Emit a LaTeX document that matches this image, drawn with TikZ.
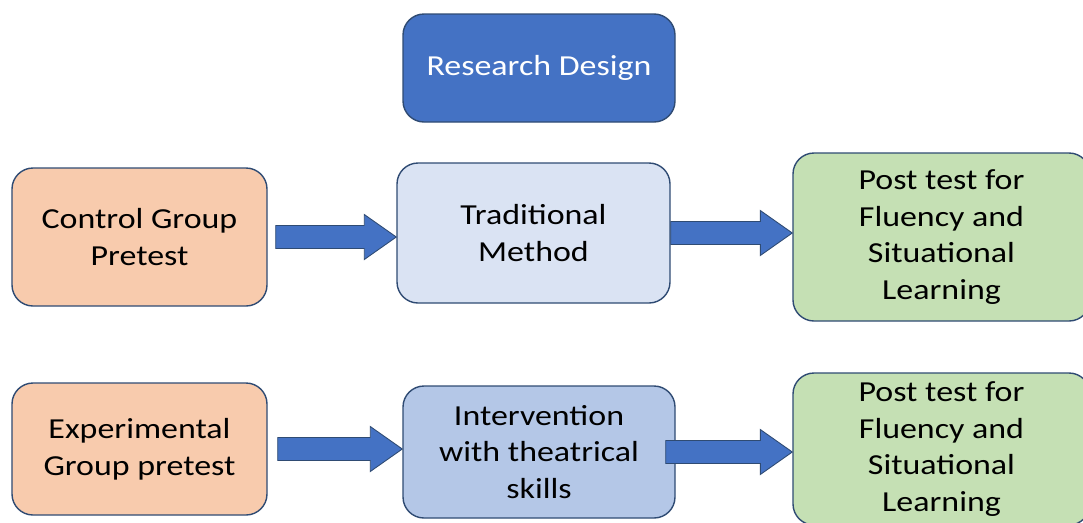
\documentclass[tikz,border=0pt]{standalone}
\usepackage{fontspec}
\setmainfont[FakeStretch=1.17]{Carlito}
\usetikzlibrary{calc}

\definecolor{headblue}{HTML}{4472C4}
\definecolor{edgeblue}{HTML}{2F4B73}
\definecolor{pretest}{HTML}{F8CBAD}
\definecolor{paleblue}{HTML}{DAE3F3}
\definecolor{midblue}{HTML}{B4C7E7}
\definecolor{posttest}{HTML}{C5E0B4}

\tikzset{
  box/.style={draw=edgeblue, line width=0.8pt, rounded corners=0.42cm,
    align=center, text=black, font=\fontsize{16.5}{21}\selectfont},
  arrowbox/.style={fill=headblue, draw=edgeblue, line width=0.5pt}
}

% Block arrow from node #1 to node #2, starting #3 cm off the east side
\newcommand{\flowarrow}[3]{%
  \coordinate (s) at ($(#1.east)+(#3,0)$);
  \coordinate (t) at (s -| #2.west);
  \filldraw[arrowbox] ($(s)+(0,0.23)$) -- ($(t)+(-0.64,0.23)$)
    -- ($(t)+(-0.64,0.45)$) -- (t) -- ($(t)+(-0.64,-0.45)$)
    -- ($(t)+(-0.64,-0.23)$) -- ($(s)+(0,-0.23)$) -- cycle;
}

\begin{document}
\begin{tikzpicture}

% Canvas
\useasboundingbox (0,0) rectangle (21.66,-10.44);
\clip (0,0) rectangle (21.66,-10.44);

% Title
\node[box, fill=headblue, text=white, minimum width=5.44cm, minimum height=2.16cm]
  (design) at (10.78,-1.36) {Research Design};

% Control group
\node[box, fill=pretest, minimum width=5.1cm, minimum height=2.76cm]
  (ctrl) at (2.79,-4.74) {Control Group\\Pretest};
\node[box, fill=paleblue, minimum width=5.46cm, minimum height=2.8cm]
  (trad) at (10.67,-4.66) {Traditional\\Method};
\node[box, fill=posttest, minimum width=5.94cm, minimum height=3.36cm]
  (posttop) at (18.83,-4.74) {Post test for\\Fluency and\\Situational\\Learning};

% Experimental group
\node[box, fill=pretest, minimum width=5.1cm, minimum height=2.64cm]
  (expt) at (2.79,-8.98) {Experimental\\Group pretest};
\node[box, fill=midblue, minimum width=5.44cm, minimum height=2.64cm]
  (interv) at (10.78,-9.04) {Intervention\\with theatrical\\skills};
\node[box, fill=posttest, minimum width=5.94cm, minimum height=3.04cm]
  (postbot) at (18.83,-8.98) {Post test for\\Fluency and\\Situational\\Learning};

% Arrows
\flowarrow{ctrl}{trad}{0.16}
\flowarrow{trad}{posttop}{0}
\flowarrow{expt}{interv}{0.2}
\flowarrow{interv}{postbot}{-0.2}

\end{tikzpicture}
\end{document}
